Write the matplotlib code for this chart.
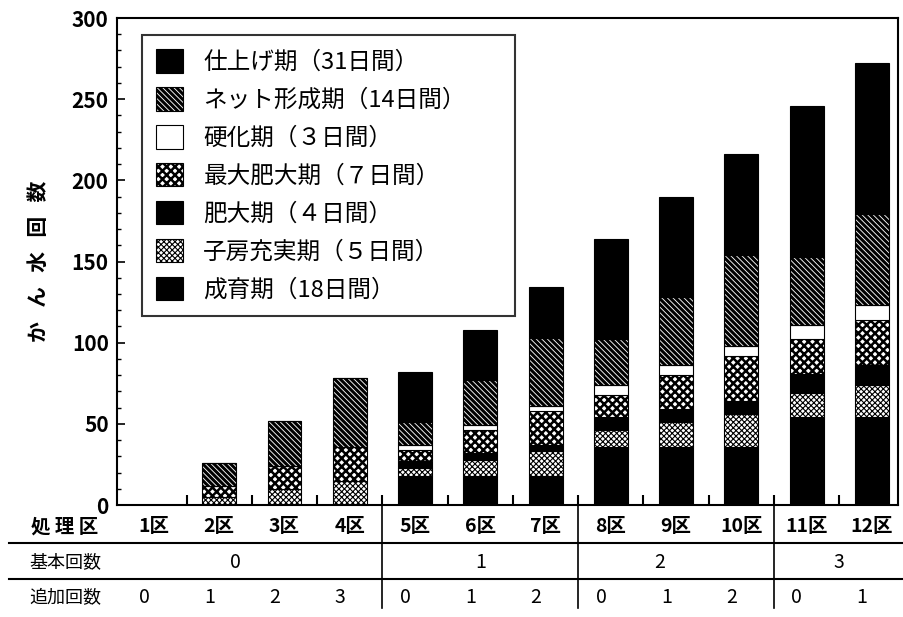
import numpy as np
import matplotlib.pyplot as plt
from matplotlib.lines import Line2D
from matplotlib.transforms import blended_transform_factory

plt.rcParams['font.family'] = ['Noto Sans CJK JP', 'DejaVu Sans']
plt.rcParams['hatch.linewidth'] = 1.6

# ---- data ----
plots = ['1区', '2区', '3区', '4区', '5区', '6区', '7区', '8区', '9区', '10区', '11区', '12区']
kihon = ['0', '1', '2', '3']
tsuika = ['0', '1', '2', '3', '0', '1', '2', '0', '1', '2', '0', '1']

stage_names = ['成育期（18日間）', '子房充実期（５日間）', '肥大期（４日間）',
               '最大肥大期（７日間）', '硬化期（３日間）', 'ネット形成期（14日間）',
               '仕上げ期（31日間）']
seiiku = [0, 0, 0, 0, 18, 18, 18, 36, 36, 36, 54, 54]
shibou = [0, 5, 10, 15, 5, 10, 15, 10, 15, 20, 15, 20]
hidai = [0, 0, 0, 0, 4, 4, 4, 8, 8, 8, 12, 12]
saidai = [0, 7, 14, 21, 7, 14, 21, 14, 21, 28, 21, 28]
kouka = [0, 0, 0, 0, 3, 3, 3, 6, 6, 6, 9, 9]
net = [0, 14, 28, 42, 14, 28, 42, 28, 42, 56, 42, 56]
shiage = [0, 0, 0, 0, 31, 31, 31, 62, 62, 62, 93, 93]

series = [seiiku, shibou, hidai, saidai, kouka, net, shiage]
faces = ['black', 'white', 'black', 'white', 'white', 'white', 'black']
hatches = [None, 'xxxxxx', None, 'xxxx', None, '\\' * 6, None]
hatch_lw = [1.0, 0.8, 1.0, 1.8, 1.0, 2.2, 1.0]

fig = plt.figure(figsize=(9.04, 6.17), dpi=100)
ax = fig.add_axes([0.1294, 0.1815, 0.8636, 0.7893])

x = np.arange(len(plots))
bottom = np.zeros(len(plots))
handles = []
for vals, fc, h, hl, name in zip(series, faces, hatches, hatch_lw, stage_names):
    b = ax.bar(x, vals, 0.52, bottom=bottom, color=fc, edgecolor='black',
               hatch=h, linewidth=0.8, label=name)
    for p in b.patches:
        if hasattr(p, 'set_hatch_linewidth'):
            p.set_hatch_linewidth(hl)
    handles.append(b)
    bottom += np.array(vals)

ax.set_xlim(-0.567, 11.396)
ax.set_ylim(0, 300)
ax.set_yticks(np.arange(0, 301, 50))
ax.set_yticks(np.arange(0, 301, 10), minor=True)
ax.set_xticks(np.arange(0.5, 11, 1))
ax.set_xticklabels([])
ax.tick_params(axis='y', which='major', direction='in', length=6, width=1.2,
               labelsize=15, pad=6)
ax.tick_params(axis='y', which='minor', direction='in', length=3, width=1)
ax.tick_params(axis='x', direction='in', length=7, width=1.5)
for lab in ax.get_yticklabels():
    lab.set_fontweight('bold')
for s in ax.spines.values():
    s.set_linewidth(1.5)

ax.set_ylabel('か   ん   水   回   数', fontsize=15, fontweight='bold', labelpad=16)

leg = ax.legend(handles[::-1], stage_names[::-1], loc='upper left',
                bbox_to_anchor=(0.032, 0.0, 0.4776, 0.965), mode='expand',
                fontsize=17, frameon=True,
                fancybox=False, edgecolor='black', handlelength=1.15,
                handleheight=1.15, labelspacing=0.56, borderpad=0.6,
                handletextpad=0.85, borderaxespad=0.0)
leg.get_frame().set_linewidth(1.5)
for lh, hl in zip(leg.legend_handles, hatch_lw[::-1]):
    if hasattr(lh, 'set_hatch_linewidth'):
        lh.set_hatch_linewidth(hl)

# ---- table below the axis ----
tr = blended_transform_factory(ax.transData, fig.transFigure)
y_row1, y_row2, y_row3 = 0.146, 0.089, 0.031
fig.text(0.072, y_row1, '処 理 区', ha='center', va='center', fontsize=14, fontweight='bold')
fig.text(0.072, y_row2, '基本回数', ha='center', va='center', fontsize=13)
fig.text(0.072, y_row3, '追加回数', ha='center', va='center', fontsize=13)
for xi, p in zip(x, plots):
    ax.text(xi, y_row1, p, transform=tr, ha='center', va='center',
            fontsize=14, fontweight='bold')
for xi, t in zip(x, tsuika):
    ax.text(xi - 0.15, y_row3, t, transform=tr, ha='center', va='center', fontsize=14)
for xc, k in zip([1.25, 5.0, 7.75, 10.5], kihon):
    ax.text(xc, y_row2, k, transform=tr, ha='center', va='center', fontsize=14)

for yl in [0.120, 0.0616]:
    fig.add_artist(Line2D([0.01, 1.0], [yl, yl], transform=fig.transFigure,
                          color='black', lw=1.5))
for xv in [3.5, 6.5, 9.5]:
    ax.plot([xv, xv], [0.1815, 0.015], transform=tr, color='black', lw=1.2,
            clip_on=False)

fig.savefig('out.png', dpi=100)
